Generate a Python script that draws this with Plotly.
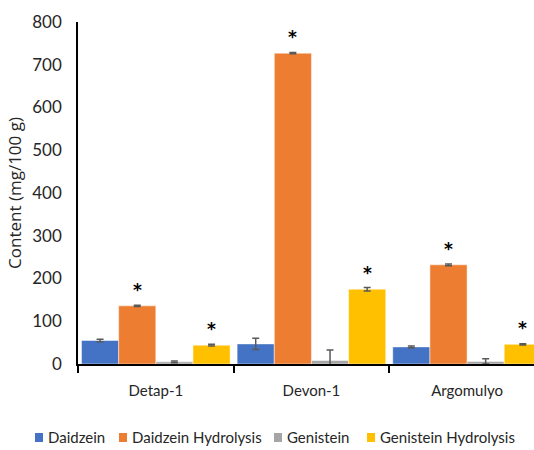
import plotly.graph_objects as go

# Isoflavone content of three soybean varieties (mg/100 g)
varieties = ["Detap-1", "Devon-1", "Argomulyo"]
series_names = ["Daidzein", "Daidzein Hydrolysis", "Genistein", "Genistein Hydrolysis"]
daidzein = [55, 47, 40]
daidzein_err = [3, 13, 2]
daidzein_hyd = [136, 727, 232]
daidzein_hyd_err = [1.5, 1.5, 2]
genistein = [5, 8, 6]
genistein_err = [2, 25, 6]
genistein_hyd = [44, 175, 46]
genistein_hyd_err = [2, 4, 1.5]
# significance marks (*) above hydrolysed samples
significant = [False, True, False, True]

values = [daidzein, daidzein_hyd, genistein, genistein_hyd]
errors = [daidzein_err, daidzein_hyd_err, genistein_err, genistein_hyd_err]
colors = ["#4472C4", "#ED7D31", "#A5A5A5", "#FFC000"]

FONT = "Lato"
TXT = "#262626"
bargap = 0.045

# plot area in pixels (for placing the key below the axis)
W, H = 534, 450
ML, MR, MT, MB = 78, 0, 22, 86
PW, PH = W - ML - MR, H - MT - MB


def px_x(p):
    return (p - ML) / PW


def px_y(p):
    return (H - MB - p) / PH


fig = go.Figure()
for name, vals, errs, col in zip(series_names, values, errors, colors):
    fig.add_trace(go.Bar(
        x=varieties, y=vals, name=name, showlegend=False,
        marker=dict(color=col, line=dict(color="rgba(255,255,255,0.6)", width=0.8)),
        error_y=dict(type="data", array=errs, visible=True,
                     color="#595959", thickness=1.5, width=3.5),
    ))

# asterisks over the bars marked significant
n = len(series_names)
slot = (1 - bargap) / n
for k, (vals, sig) in enumerate(zip(values, significant)):
    if not sig:
        continue
    for i, v in enumerate(vals):
        xc = i - (1 - bargap) / 2 + (k + 0.5) * slot
        fig.add_annotation(x=xc, y=v, xref="x", yref="y", text="<b>*</b>",
                           showarrow=False, yanchor="middle", yshift=16,
                           font=dict(family="DejaVu Sans", size=17, color="#000000"))

# key: coloured squares with series names along the bottom
key_x = [35, 119, 274, 367]
key_y = 437
for name, col, x0 in zip(series_names, colors, key_x):
    fig.add_shape(type="rect", xref="paper", yref="paper",
                  x0=px_x(x0), x1=px_x(x0 + 8), y0=px_y(key_y + 5), y1=px_y(key_y - 4),
                  fillcolor=col, line=dict(width=0))
    fig.add_annotation(x=px_x(x0 + 11), y=px_y(key_y), xref="paper", yref="paper",
                       text=name, showarrow=False, xanchor="left", yanchor="middle",
                       font=dict(family=FONT, size=15, color=TXT))

fig.update_layout(
    width=W, height=H,
    margin=dict(l=ML, r=MR, t=MT, b=MB),
    paper_bgcolor="white", plot_bgcolor="white",
    barmode="group", bargap=bargap, bargroupgap=0,
    font=dict(family=FONT, size=16, color=TXT),
    showlegend=False,
    xaxis=dict(range=[-0.5, 2.43], showline=True, linecolor="#000000", linewidth=1.5,
               ticks="outside", tickson="boundaries", ticklen=7, tickcolor="#000000",
               tickwidth=1.5, ticklabelstandoff=12, showgrid=False,
               tickfont=dict(family=FONT, size=15, color=TXT)),
    yaxis=dict(range=[0, 800], dtick=100, showline=True, linecolor="#000000", linewidth=1.5,
               ticks="", ticklabelstandoff=11, showgrid=False, zeroline=False,
               tickfont=dict(family=FONT, size=17, color=TXT),
               title=dict(text="Content (mg/100 g)", standoff=6,
                          font=dict(family="Open Sans", size=17, color=TXT))),
)

fig.write_html("out.html")
